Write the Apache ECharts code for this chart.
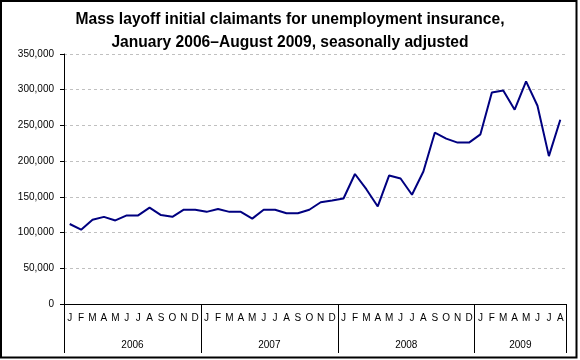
<!DOCTYPE html>
<html>
<head>
<meta charset="utf-8">
<script src="https://cdn.jsdelivr.net/npm/echarts@6/dist/echarts.min.js"></script>
<style>
html,body{margin:0;padding:0;background:#fff;}
#chart{width:580px;height:360px;}
</style>
</head>
<body>
<div id="chart"></div>
<script>
// Data
const monthInitials = ['J','F','M','A','M','J','J','A','S','O','N','D'];
const years = ['2006','2007','2008','2009'];
const monthsPerYear = [12, 12, 12, 8];
const claimants2006 = [112000,104000,118000,122000,117000,124000,124000,135000,124500,122000,132000,132000];
const claimants2007 = [129000,133000,129000,129000,119500,132000,132000,127000,127000,132000,142500,145000];
const claimants2008 = [147700,182000,160700,136600,180000,175700,153000,185500,239800,231500,226000,226000];
const claimants2009 = [237500,296000,299000,272000,311600,277600,207000,258000];
const yTicks = [0,50000,100000,150000,200000,250000,300000,350000];

// Build categories and series values
const categories = [];
years.forEach((y, yi) => {
  for (let m = 0; m < monthsPerYear[yi]; m++) categories.push(y + '-' + (m + 1));
});
const values = [].concat(claimants2006, claimants2007, claimants2008, claimants2009);

// Year boundaries and year-label centres (in month units)
const yearBounds = [0];
const yearCenters = [];
monthsPerYear.forEach((n, i) => {
  const start = yearBounds[yearBounds.length - 1];
  yearCenters.push(start + n / 2);
  yearBounds.push(start + n);
});
const total = yearBounds[yearBounds.length - 1];

const chart = echarts.init(document.getElementById('chart'), null, {renderer: 'canvas'});
const font = 'Liberation Sans, Arial, sans-serif';
chart.setOption({
  animation: false,
  backgroundColor: '#ffffff',
  title: {
    text: 'Mass layoff initial claimants for unemployment insurance,\nJanuary 2006\u2013August 2009, seasonally adjusted',
    left: 'center',
    top: 3,
    textStyle: {fontFamily: font, fontSize: 15.6, fontWeight: 'bold', color: '#000', lineHeight: 23, align: 'center'}
  },
  grid: {left: 64, right: 14, top: 54, bottom: 56, containLabel: false},
  xAxis: [
    {
      type: 'category',
      data: categories,
      boundaryGap: true,
      position: 'bottom',
      axisLine: {show: true, lineStyle: {color: '#000', width: 1}},
      axisTick: {show: false},
      axisLabel: {
        interval: 0, margin: 9,
        fontFamily: font, fontSize: 10, color: '#000',
        formatter: v => monthInitials[parseInt(v.split('-')[1], 10) - 1]
      },
      splitLine: {show: false}
    },
    {
      type: 'value',
      min: 0, max: total,
      position: 'bottom',
      axisLine: {show: false},
      axisTick: {show: true, customValues: yearBounds, length: 49, inside: false, lineStyle: {color: '#000', width: 1}},
      axisLabel: {
        show: true, customValues: yearCenters, margin: 36,
        fontFamily: font, fontSize: 10, color: '#000',
        formatter: v => years[yearCenters.indexOf(v)] || ''
      },
      splitLine: {show: false}
    }
  ],
  yAxis: {
    type: 'value',
    min: yTicks[0], max: yTicks[yTicks.length - 1], interval: 50000,
    axisLine: {show: true, lineStyle: {color: '#000', width: 1}},
    axisTick: {show: true, length: 4, lineStyle: {color: '#000'}},
    axisLabel: {
      margin: 10, fontFamily: font, fontSize: 10, color: '#000',
      formatter: v => v.toLocaleString('en-US')
    },
    splitLine: {show: true, lineStyle: {color: '#c0c0c0', type: [3, 3], width: 1}}
  },
  series: [{
    type: 'line',
    data: values,
    xAxisIndex: 0,
    symbol: 'none',
    lineStyle: {color: '#000080', width: 2},
    itemStyle: {color: '#000080'}
  }],
  graphic: [{
    type: 'rect',
    shape: {x: 1, y: 1, width: 575.5, height: 356.5},
    style: {fill: 'none', stroke: '#000', lineWidth: 2},
    silent: true
  }]
});
</script>
</body>
</html>
